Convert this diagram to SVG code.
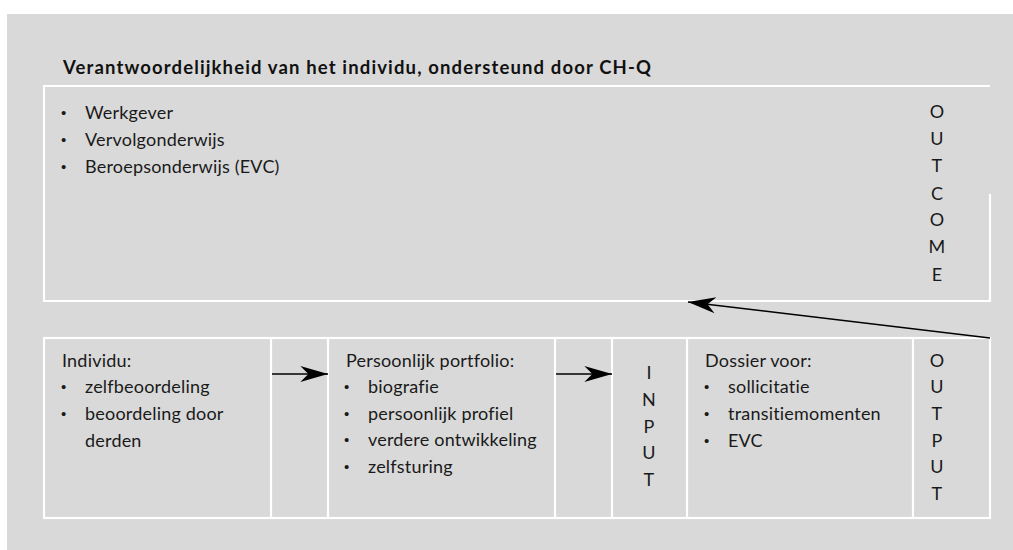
<svg xmlns="http://www.w3.org/2000/svg" width="1013" height="550" viewBox="0 0 1013 550">
<style>
.t{font-family:Lato,"Liberation Sans",sans-serif;font-size:18px;letter-spacing:0.2px;fill:#1a1a1a}
.d{font-family:"Liberation Sans",sans-serif;font-size:15px;fill:#1a1a1a}
.b{font-family:Lato,"Liberation Sans",sans-serif;font-size:18.5px;font-weight:bold;fill:#111}
.c{text-anchor:middle}
.w{fill:none;stroke:#fff;stroke-width:2.2}
.a{fill:none;stroke:#000;stroke-width:1.4}
</style>
<defs>
<marker id="ah" markerUnits="userSpaceOnUse" markerWidth="30" markerHeight="20" viewBox="-24 -8 26 16" refX="0" refY="0" orient="auto">
<path d="M0,0 L-24,-7 L-17,0 L-24,7 Z" fill="#000"/>
</marker>
</defs>
<rect x="7" y="14" width="1006" height="536" fill="#d9d9d9"/>
<text class="b" x="63" y="74" textLength="588" lengthAdjust="spacing">Verantwoordelijkheid van het individu, ondersteund door CH-Q</text>
<g id="outcome-box">
<path class="w" d="M990,194 L990,301 L44,301 L44,86 L990,86"/>
<text class="d" x="61" y="118">•</text><text class="t" x="85" y="119">Werkgever</text>
<text class="d" x="61" y="145">•</text><text class="t" x="85" y="146">Vervolgonderwijs</text>
<text class="d" x="61" y="172">•</text><text class="t" x="85" y="173">Beroepsonderwijs (EVC)</text>
<g class="t c">
<text x="937" y="118">O</text><text x="937" y="145">U</text><text x="937" y="172">T</text><text x="937" y="200">C</text><text x="937" y="226">O</text><text x="937" y="253">M</text><text x="937" y="281">E</text>
</g>
</g>
<g id="bottom-frame">
<rect class="w" x="44" y="338" width="946" height="180"/>
</g>
<g id="individu">
<line class="w" x1="271" y1="338" x2="271" y2="518"/>
<text class="t" x="62" y="367">Individu:</text>
<text class="d" x="61" y="392">•</text><text class="t" x="85" y="393">zelfbeoordeling</text>
<text class="d" x="61" y="419">•</text><text class="t" x="85" y="420">beoordeling door</text>
<text class="t" x="85" y="447">derden</text>
</g>
<g id="portfolio">
<line class="w" x1="328" y1="338" x2="328" y2="518"/>
<line class="w" x1="555" y1="338" x2="555" y2="518"/>
<text class="t" x="346" y="367">Persoonlijk portfolio:</text>
<text class="d" x="344" y="392">•</text><text class="t" x="368" y="393">biografie</text>
<text class="d" x="344" y="419">•</text><text class="t" x="368" y="420">persoonlijk profiel</text>
<text class="d" x="344" y="445">•</text><text class="t" x="368" y="446">verdere ontwikkeling</text>
<text class="d" x="344" y="472">•</text><text class="t" x="368" y="473">zelfsturing</text>
</g>
<g id="input">
<line class="w" x1="612" y1="338" x2="612" y2="518"/>
<line class="w" x1="687" y1="338" x2="687" y2="518"/>
<g class="t c">
<text x="649" y="379">I</text><text x="649" y="406">N</text><text x="649" y="433">P</text><text x="649" y="459">U</text><text x="649" y="486">T</text>
</g>
</g>
<g id="dossier">
<line class="w" x1="913" y1="338" x2="913" y2="518"/>
<text class="t" x="705" y="367">Dossier voor:</text>
<text class="d" x="704" y="392">•</text><text class="t" x="728" y="393">sollicitatie</text>
<text class="d" x="704" y="419">•</text><text class="t" x="728" y="420">transitiemomenten</text>
<text class="d" x="704" y="446">•</text><text class="t" x="728" y="447">EVC</text>
</g>
<g id="output" class="t c">
<text x="937" y="367">O</text><text x="937" y="393">U</text><text x="937" y="420">T</text><text x="937" y="447">P</text><text x="937" y="473">U</text><text x="937" y="500">T</text>
</g>
<g id="connectors">
<line class="a" x1="272" y1="374" x2="328" y2="374" marker-end="url(#ah)"/>
<line class="a" x1="556" y1="374" x2="612" y2="374" marker-end="url(#ah)"/>
<line class="a" x1="990" y1="338" x2="688" y2="302" marker-end="url(#ah)"/>
</g>
</svg>
